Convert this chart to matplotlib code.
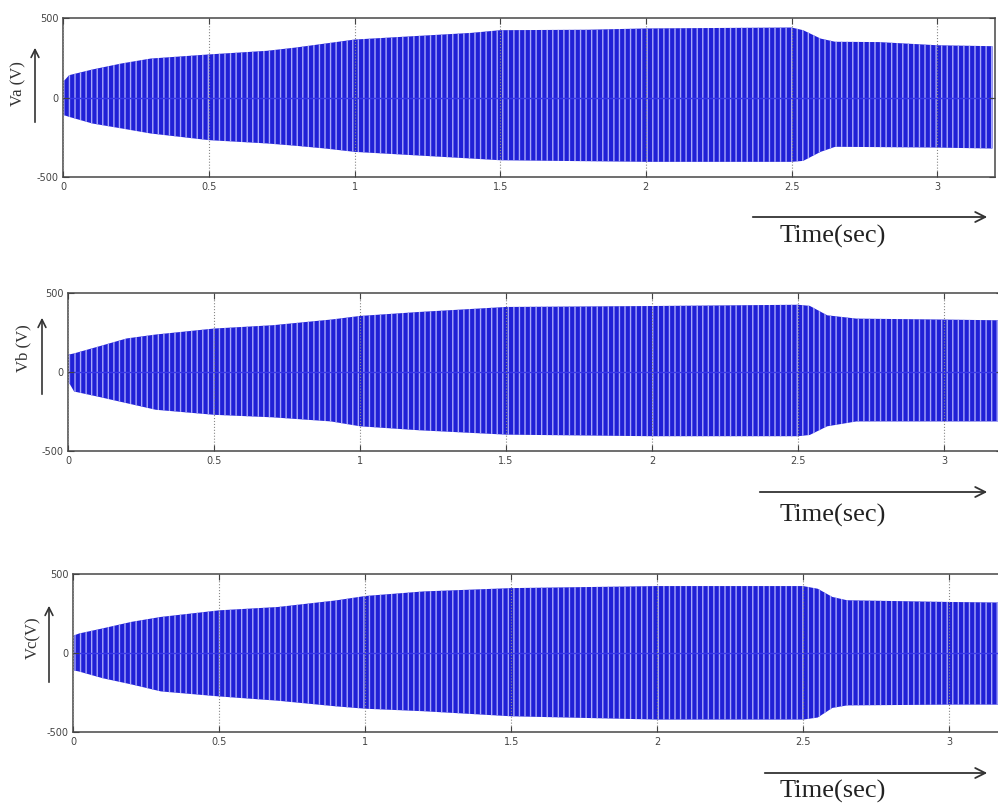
import numpy as np
import matplotlib
matplotlib.use('Agg')
import matplotlib.pyplot as plt

# envelope of the phase voltages (time in s, volts)
t_a = [0, 0.02, 0.1, 0.2, 0.3, 0.5, 0.7, 0.8, 0.9, 1.0, 1.2, 1.4, 1.5, 1.8, 2.0, 2.5, 2.54, 2.6, 2.65, 2.8, 3.0, 3.19]
va_up = [100, 141, 177, 215, 246, 272, 295, 316, 341, 366, 387, 408, 425, 428, 436, 442, 425, 372, 352, 350, 330, 324]
va_lo = [-110, -122, -164, -195, -227, -269, -290, -305, -322, -343, -364, -385, -396, -402, -406, -406, -400, -343, -311, -313, -316, -322]

t_b = [0, 0.02, 0.1, 0.2, 0.3, 0.5, 0.7, 0.9, 1.0, 1.2, 1.5, 2.0, 2.5, 2.54, 2.6, 2.7, 3.0, 3.2]
vb_up = [110, 118, 160, 213, 238, 276, 297, 333, 356, 381, 413, 419, 427, 420, 360, 339, 333, 328]
vb_lo = [-60, -124, -156, -198, -240, -272, -288, -314, -345, -370, -398, -408, -408, -400, -345, -314, -314, -314]

t_c = [0, 0.02, 0.1, 0.2, 0.3, 0.5, 0.7, 0.9, 1.0, 1.2, 1.5, 2.0, 2.5, 2.55, 2.6, 2.65, 3.0, 3.2]
vc_up = [110, 124, 156, 198, 229, 271, 292, 334, 362, 391, 412, 425, 425, 408, 356, 335, 324, 320]
vc_lo = [-110, -118, -160, -200, -244, -276, -303, -339, -354, -370, -402, -423, -423, -410, -349, -333, -328, -328]

xticks = [0, 0.5, 1, 1.5, 2, 2.5, 3]
xticklabels = ['0', '0.5', '1', '1.5', '2', '2.5', '3']
yticks = [-500, 0, 500]
yticklabels = ['-500', '0', '500']
ylabels = ['Va (V)', 'Vb (V)', 'Vc(V)']

plt.rcParams['hatch.linewidth'] = 1.0

fig = plt.figure(figsize=(9.98, 8.07), dpi=100)

# axes boxes [left, bottom, width, height] in figure fraction
boxes = [[0.0634, 0.781, 0.934, 0.1963],
         [0.0684, 0.4415, 0.936, 0.1951],
         [0.0735, 0.0933, 0.936, 0.1951]]
data = [(t_a, va_up, va_lo), (t_b, vb_up, vb_lo), (t_c, vc_up, vc_lo)]
# y-label text / arrow positions (pixels from top-left)
lab_pos = [(18, 84, 35, 125, 45), (23, 348, 42, 397, 315), (33, 638, 49, 685, 603)]
time_pos = [(217, 236, 750), (492, 515, 757), (773, 791, 762)]

W, H = 998.0, 807.0
for i in range(3):
    ax = fig.add_axes(boxes[i])
    t, up, lo = data[i]
    ax.fill_between(t, lo, up, facecolor='#2020d6', edgecolor='#a8a8fa',
                    hatch='|||', linewidth=0)
    ax.plot([t[0], t[-1]], [0, 0], color='#3a3ae8', linewidth=1.0)
    ax.set_xlim(0, 3.2)
    ax.set_ylim(-500, 500)
    ax.set_xticks(xticks)
    ax.set_xticklabels(xticklabels)
    ax.set_yticks(yticks)
    ax.set_yticklabels(yticklabels)
    ax.tick_params(direction='in', top=True, right=True, labelsize=7,
                   colors='#444444', length=4)
    ax.xaxis.grid(True, linestyle=':', color='#888888', linewidth=0.8)
    ax.set_axisbelow(False)
    for s in ax.spines.values():
        s.set_color('#555555')
        s.set_linewidth(1.2)

    # y label with up arrow
    tx, ty, axx, ay0, ay1 = lab_pos[i]
    fig.text(tx / W, 1 - ty / H, ylabels[i], rotation=90, ha='center', va='center',
             fontsize=12, family='Liberation Serif', color='#333333')
    fig.add_artist(matplotlib.patches.FancyArrowPatch(
        (axx / W, 1 - ay0 / H), (axx / W, 1 - ay1 / H), transform=fig.transFigure,
        arrowstyle='->', mutation_scale=14, color='#333333', linewidth=1.2))

    # time arrow and label
    ya, yt, xa = time_pos[i]
    fig.add_artist(matplotlib.patches.FancyArrowPatch(
        (xa / W, 1 - ya / H), (990 / W, 1 - ya / H), transform=fig.transFigure,
        arrowstyle='->', mutation_scale=18, color='#333333', linewidth=1.3))
    fig.text(833 / W, 1 - yt / H, 'Time(sec)', ha='center', va='center',
             fontsize=19, family='Liberation Serif', color='#222222')

fig.savefig('out.png', dpi=100)
